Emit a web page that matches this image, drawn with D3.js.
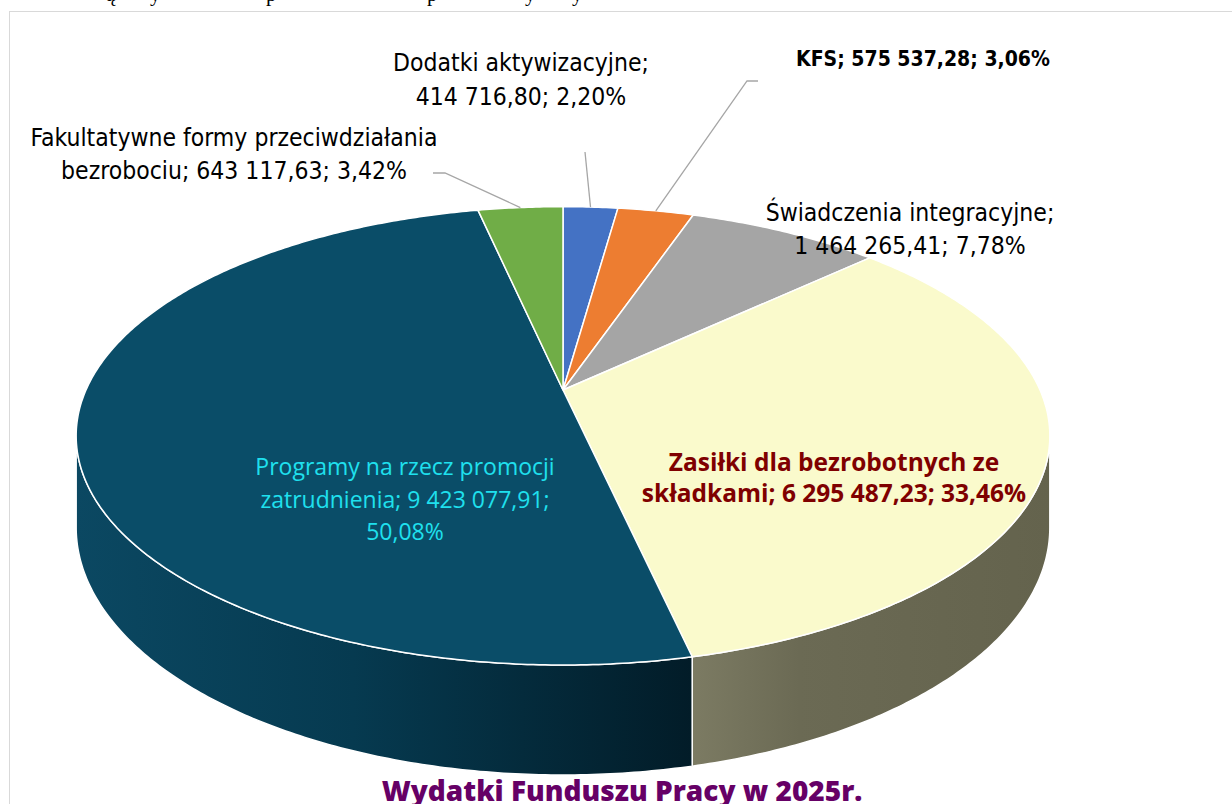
<!DOCTYPE html>
<html>
<head>
<meta charset="utf-8">
<script src="https://cdn.jsdelivr.net/npm/d3@7"></script>
<style>
  body { margin: 0; background: #fff; }
  svg { display: block; }
</style>
</head>
<body>
<div id="chart"></div>
<script>
// ---- data ----
const categories = [
    "Dodatki aktywizacyjne",
    "KFS",
    "Świadczenia integracyjne",
    "Zasiłki dla bezrobotnych ze składkami",
    "Programy na rzecz promocji zatrudnienia",
    "Fakultatywne formy przeciwdziałania bezrobociu"
];
const values = [414716.80, 575537.28, 1464265.41, 6295487.23, 9423077.91, 643117.63];
const topColors = ["#4472c4", "#ed7d31", "#a5a5a5", "#fafacc", "#0a4d68", "#70ad47"];
const chartTitle = "Wydatki Funduszu Pracy w 2025r.";

// label layout: words per line, anchor, style
const labelLayout = [
    {words: [2], x: 521, y: 71, dy: 34, font: "narrow", size: 24.5, color: "#000", weight: 400, leader: [[585, 152]]},
    {words: [], x: 923, y: 66, dy: 34, font: "narrow", size: 21, color: "#000", weight: 700, leader: [[758, 81], [747, 81]]},
    {words: [2], x: 910, y: 221, dy: 33, font: "narrow", size: 24.5, color: "#000", weight: 400, leader: null},
    {words: [4], x: 834, y: 471, dy: 31, font: "calibri", size: 24.5, color: "#7f0000", weight: 700, leader: null},
    {words: [4, 4], x: 405, y: 475, dy: 32.5, font: "calibri", size: 23, color: "#1fe0ee", weight: 400, leader: null},
    {words: [3], x: 234, y: 146, dy: 33, font: "narrow", size: 24.5, color: "#000", weight: 400, leader: [[433, 173], [445, 173]]}
];

const W = 1232, H = 804;
const fonts = {
    narrow: "'Liberation Sans Narrow', 'DejaVu Sans Condensed', 'Roboto', sans-serif",
    calibri: "'Open Sans', Lato, sans-serif"
};

const svg = d3.select("#chart").append("svg")
    .attr("width", W)
    .attr("height", H);

// document text cut off above the chart (only descenders visible)
const cutGlyphs = [["ą", 106], ["y", 150], ["p", 266], ["p", 427], ["y", 525], ["y", 572]];
svg.append("g")
    .selectAll("text")
    .data(cutGlyphs)
    .enter()
    .append("text")
    .attr("x", d => d[1])
    .attr("y", 1)
    .attr("font-family", "'Liberation Serif', 'DejaVu Serif', serif")
    .attr("font-size", 21)
    .attr("fill", "#000")
    .text(d => d[0]);

// chart area frame
svg.append("rect")
    .attr("x", 9.5)
    .attr("y", 11.5)
    .attr("width", W + 20)
    .attr("height", H + 20)
    .attr("fill", "none")
    .attr("stroke", "#d9d9d9")
    .attr("stroke-width", 1);

// ---- 3D pie projection ----
const cx = 563, cy = 390, rx = 477, ry = 220, k = 0.2, depth = 88;

function rim(a) {
    let f = 1 + k * Math.cos(a);
    return [cx + rx * Math.sin(a) / f, cy - ry * Math.cos(a) / f];
}
function bottom(a) {
    let p = rim(a);
    return [p[0], p[1] + depth / (1 + k * Math.cos(a))];
}
function arcPoints(fn, a0, a1) {
    let n = Math.max(2, Math.ceil(Math.abs(a1 - a0) / 0.01));
    return d3.range(n + 1).map(i => fn(a0 + (a1 - a0) * i / n));
}

const pie = d3.pie().sort(null).value(d => d)
    .startAngle(0).endAngle(2 * Math.PI);
const arcs = pie(values);
const total = d3.sum(values);

const locale = d3.formatLocale({decimal: ",", thousands: " ", grouping: [3], currency: ["", ""]});
const fmtValue = locale.format(",.2f");
const fmtPct = locale.format(".2%");

const line = d3.line();

// visible side range: between the two widest points
const visA0 = Math.acos(-k), visA1 = 2 * Math.PI - Math.acos(-k);

const defs = svg.append("defs");
const sideStops = {
    3: [["0%", "#7c7b63"], ["30%", "#6b6a54"], ["100%", "#64634d"]],
    4: [["0%", "#0b4862"], ["45%", "#063a50"], ["100%", "#021c28"]]
};

const sides = svg.append("g");
arcs.forEach((d, i) => {
    let a0 = Math.max(d.startAngle, visA0), a1 = Math.min(d.endAngle, visA1);
    if (a1 <= a0) return;
    let top = arcPoints(rim, a0, a1);
    let bot = arcPoints(bottom, a1, a0);
    let xs = top.concat(bot).map(p => p[0]);
    let grad = defs.append("linearGradient")
        .attr("id", "side" + i)
        .attr("gradientUnits", "userSpaceOnUse")
        .attr("x1", d3.min(xs)).attr("x2", d3.max(xs))
        .attr("y1", 0).attr("y2", 0);
    let stops = sideStops[i] || [["0%", d3.color(topColors[i]).darker(0.8)], ["100%", d3.color(topColors[i]).darker(1.5)]];
    stops.forEach(s => grad.append("stop").attr("offset", s[0]).attr("stop-color", s[1]));
    sides.append("path")
        .attr("d", line(top.concat(bot)) + "Z")
        .attr("fill", "url(#side" + i + ")")
        .attr("stroke", "#fff")
        .attr("stroke-width", 1.5)
        .attr("stroke-linejoin", "round");
});

const tops = svg.append("g");
arcs.forEach((d, i) => {
    let pts = [[cx, cy]].concat(arcPoints(rim, d.startAngle, d.endAngle));
    tops.append("path")
        .attr("d", line(pts) + "Z")
        .attr("fill", topColors[i])
        .attr("stroke", "#fff")
        .attr("stroke-width", 1.5)
        .attr("stroke-linejoin", "round");
});

// ---- leader lines ----
const leaders = svg.append("g");
arcs.forEach((d, i) => {
    let L = labelLayout[i];
    if (!L.leader) return;
    let mid = rim((d.startAngle + d.endAngle) / 2);
    leaders.append("path")
        .attr("d", line(L.leader.concat([mid])))
        .attr("fill", "none")
        .attr("stroke", "#a6a6a6")
        .attr("stroke-width", 1.3);
});

// ---- data labels ----
const labels = svg.append("g");
arcs.forEach((d, i) => {
    let L = labelLayout[i];
    let text = categories[i] + "; " + fmtValue(values[i]) + "; " + fmtPct(values[i] / total);
    let words = text.split(" ");
    let lines = [];
    L.words.forEach(n => lines.push(words.splice(0, n).join(" ")));
    if (words.length) lines.push(words.join(" "));
    let t = labels.append("text")
        .attr("text-anchor", "middle")
        .attr("font-family", fonts[L.font])
        .attr("font-size", L.size)
        .attr("font-weight", L.weight)
        .attr("fill", L.color);
    lines.forEach((s, j) => {
        t.append("tspan")
            .attr("x", L.x)
            .attr("y", L.y + j * L.dy)
            .text(s);
    });
});

// ---- title ----
svg.append("text")
    .attr("x", 622)
    .attr("y", 801)
    .attr("text-anchor", "middle")
    .attr("font-family", "'Open Sans', sans-serif")
    .attr("font-weight", 800)
    .attr("font-size", 28)
    .attr("fill", "#660066")
    .text(chartTitle);
</script>
</body>
</html>
